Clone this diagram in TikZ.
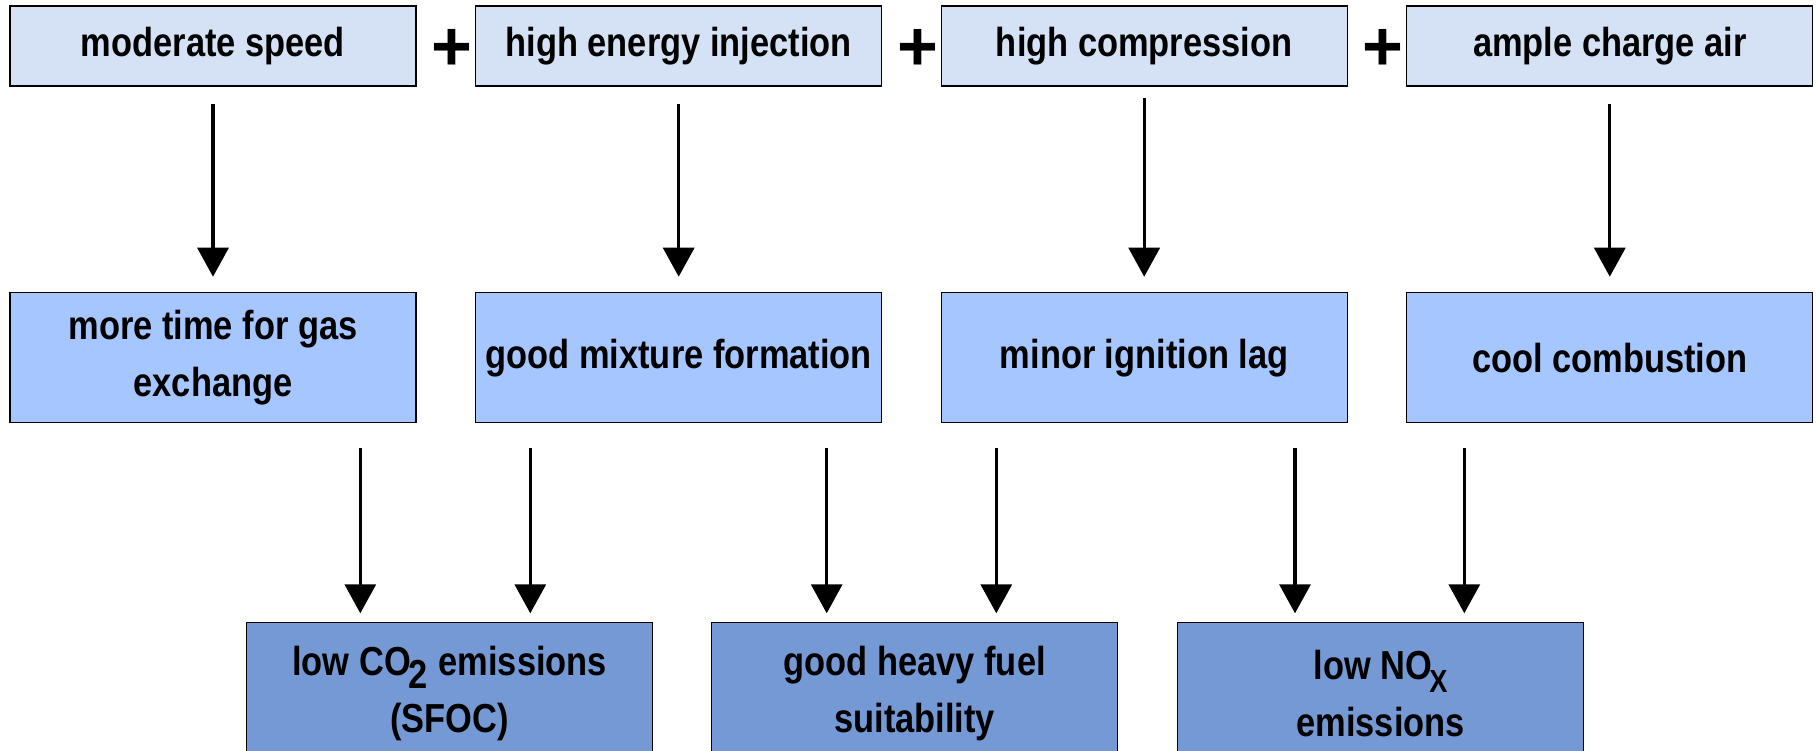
\documentclass[tikz,border=0pt]{standalone}
\usepackage{fontspec}
\newfontfamily\boxfont{Liberation Sans}[FakeStretch=0.85]
\newfontfamily\plusfont{Liberation Sans}
\usetikzlibrary{arrows.meta}
\definecolor{topfill}{RGB}{213,226,245}
\definecolor{midfill}{RGB}{166,198,255}
\definecolor{botfill}{RGB}{116,153,213}
\tikzset{
  box/.style={draw=black, line width=1.2pt, minimum width=406pt, inner sep=0pt, outer sep=0pt,
    align=center, font=\boxfont\bfseries\fontsize{40.5}{56.7}\selectfont},
  topbox/.style={box, fill=topfill, minimum height=80pt},
  midbox/.style={box, fill=midfill, minimum height=130pt},
  botbox/.style={box, fill=botfill, minimum height=142pt},
  plussign/.style={inner sep=0pt, font=\plusfont\bfseries\fontsize{70}{70}\selectfont},
  arr/.style={line width=3.3pt, -{Triangle[width=31pt,length=29pt]}},
}
\begin{document}
\begin{tikzpicture}[x=1pt,y=-1pt]
\useasboundingbox (0,0) rectangle (1816,750);
\begin{scope}
\clip (0,0) rectangle (1816,750);
% top row
\node[topbox] (t1) at (213,46) {moderate speed};
\node[topbox] (t2) at (678.7,46) {high energy injection};
\node[topbox] (t3) at (1144.2,46) {high compression};
\node[topbox] (t4) at (1609.8,46) {ample charge air};
\node[plussign] (p1) at (452,50) {+};
\node[plussign] (p2) at (918,50) {+};
\node[plussign] (p3) at (1383,50) {+};
% middle row
\node[midbox] (m1) at (213,357.7) {more time for gas\\exchange};
\node[midbox] (m2) at (678.7,357.7) {good mixture formation};
\node[midbox] (m3) at (1144.2,357.7) {minor ignition lag};
\node[midbox] (m4) at (1609.8,357.7) {cool combustion};
% bottom row
\node[botbox] (b1) at (449.7,693.5) {low CO\kern-2pt\raisebox{-13pt}{2}\kern1pt\ emissions\\(SFOC)};
\node[botbox] (b2) at (914.7,693.5) {good heavy fuel\\suitability};
\node[botbox] (b3) at (1380.7,693.5) {low NO\kern-3pt\raisebox{-13pt}{\fontsize{32}{32}\selectfont X}\\emissions};
\end{scope}
% arrows top -> middle
\draw[arr, shorten <=18pt, shorten >=16pt] (t1.south) -- (m1.north);
\draw[arr, shorten <=18pt, shorten >=16pt] (t2.south) -- (m2.north);
\draw[arr, shorten <=12pt, shorten >=16pt] (t3.south) -- (m3.north);
\draw[arr, shorten <=18pt, shorten >=16pt] (t4.south) -- (m4.north);
% arrows middle -> bottom
\draw[arr, shorten <=25.6pt, shorten >=9.2pt] ([xshift=147.3pt]m1.south) -- ([xshift=-89.4pt]b1.north);
\draw[arr, shorten <=25.6pt, shorten >=9.2pt] ([xshift=-148.4pt]m2.south) -- ([xshift=80.6pt]b1.north);
\draw[arr, shorten <=25.6pt, shorten >=9.2pt] ([xshift=148pt]m2.south) -- ([xshift=-88pt]b2.north);
\draw[arr, shorten <=25.6pt, shorten >=9.2pt] ([xshift=-147.9pt]m3.south) -- ([xshift=81.6pt]b2.north);
\draw[arr, shorten <=25.6pt, shorten >=9.2pt] ([xshift=150.8pt]m3.south) -- ([xshift=-85.7pt]b3.north);
\draw[arr, shorten <=25.6pt, shorten >=9.2pt] ([xshift=-145.5pt]m4.south) -- ([xshift=83.6pt]b3.north);
\end{tikzpicture}
\end{document}
